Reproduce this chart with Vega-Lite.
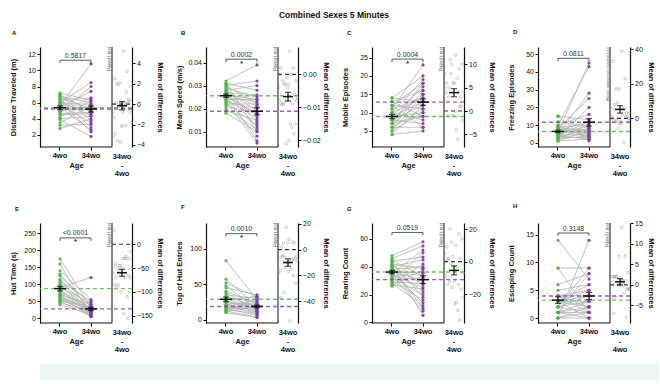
{
"$schema":"https://vega.github.io/schema/vega-lite/v6.json",
"background":"white",
"padding":{"left":9,"top":10,"right":0,"bottom":1},
"title":{"text":"Combined Sexes 5 Minutes","anchor":"middle","fontSize":8.5,"fontWeight":"bold","offset":10},
"datasets":{
"A":[{"id":17,"4wo":5.6,"34wo":10.8,"d":5.2},{"id":4,"4wo":6.0,"34wo":8.5,"d":2.5},{"id":22,"4wo":4.8,"34wo":8.0,"d":3.2},{"id":9,"4wo":5.5,"34wo":7.4,"d":1.9},{"id":13,"4wo":6.4,"34wo":6.5,"d":0.1},{"id":1,"4wo":7.2,"34wo":6.3,"d":-0.9},{"id":26,"4wo":6.8,"34wo":6.0,"d":-0.8},{"id":7,"4wo":4.2,"34wo":6.2,"d":2.0},{"id":19,"4wo":5.9,"34wo":5.8,"d":-0.1},{"id":11,"4wo":3.5,"34wo":5.6,"d":2.1},{"id":3,"4wo":6.6,"34wo":5.3,"d":-1.3},{"id":24,"4wo":5.0,"34wo":5.5,"d":0.5},{"id":15,"4wo":7.0,"34wo":4.9,"d":-2.1},{"id":6,"4wo":4.5,"34wo":4.6,"d":0.1},{"id":28,"4wo":6.2,"34wo":4.4,"d":-1.8},{"id":10,"4wo":5.3,"34wo":5.1,"d":-0.2},{"id":21,"4wo":2.8,"34wo":4.0,"d":1.2},{"id":2,"4wo":6.9,"34wo":3.8,"d":-3.1},{"id":14,"4wo":5.7,"34wo":3.5,"d":-2.2},{"id":25,"4wo":4.0,"34wo":4.3,"d":0.3},{"id":8,"4wo":6.5,"34wo":2.9,"d":-3.6},{"id":18,"4wo":3.2,"34wo":3.3,"d":0.1},{"id":5,"4wo":5.4,"34wo":2.6,"d":-2.8},{"id":27,"4wo":4.9,"34wo":6.6,"d":1.7},{"id":12,"4wo":6.1,"34wo":2.4,"d":-3.7},{"id":20,"4wo":3.9,"34wo":1.8,"d":-2.1},{"id":16,"4wo":5.8,"34wo":5.0,"d":-0.8},{"id":23,"4wo":4.6,"34wo":4.8,"d":0.2}],
"B":[{"id":17,"4wo":0.032,"34wo":0.039,"d":0.007},{"id":4,"4wo":0.030,"34wo":0.032,"d":0.002},{"id":22,"4wo":0.028,"34wo":0.030,"d":0.002},{"id":9,"4wo":0.031,"34wo":0.028,"d":-0.003},{"id":13,"4wo":0.027,"34wo":0.026,"d":-0.001},{"id":1,"4wo":0.029,"34wo":0.025,"d":-0.004},{"id":26,"4wo":0.026,"34wo":0.024,"d":-0.002},{"id":7,"4wo":0.025,"34wo":0.023,"d":-0.002},{"id":19,"4wo":0.024,"34wo":0.024,"d":0.0},{"id":11,"4wo":0.030,"34wo":0.022,"d":-0.008},{"id":3,"4wo":0.022,"34wo":0.022,"d":0.0},{"id":24,"4wo":0.027,"34wo":0.021,"d":-0.006},{"id":15,"4wo":0.023,"34wo":0.020,"d":-0.003},{"id":6,"4wo":0.028,"34wo":0.019,"d":-0.009},{"id":28,"4wo":0.025,"34wo":0.018,"d":-0.007},{"id":10,"4wo":0.021,"34wo":0.018,"d":-0.003},{"id":21,"4wo":0.026,"34wo":0.017,"d":-0.009},{"id":2,"4wo":0.024,"34wo":0.016,"d":-0.008},{"id":14,"4wo":0.019,"34wo":0.015,"d":-0.004},{"id":25,"4wo":0.029,"34wo":0.014,"d":-0.015},{"id":8,"4wo":0.022,"34wo":0.013,"d":-0.009},{"id":18,"4wo":0.027,"34wo":0.012,"d":-0.015},{"id":5,"4wo":0.020,"34wo":0.011,"d":-0.009},{"id":27,"4wo":0.018,"34wo":0.010,"d":-0.008},{"id":12,"4wo":0.031,"34wo":0.010,"d":-0.021},{"id":20,"4wo":0.024,"34wo":0.008,"d":-0.016},{"id":16,"4wo":0.026,"34wo":0.006,"d":-0.020},{"id":23,"4wo":0.023,"34wo":0.005,"d":-0.018}],
"C":[{"id":17,"4wo":11,"34wo":23,"d":12},{"id":4,"4wo":14,"34wo":20,"d":6},{"id":22,"4wo":10,"34wo":19,"d":9},{"id":9,"4wo":7,"34wo":18,"d":11},{"id":13,"4wo":12,"34wo":18,"d":6},{"id":1,"4wo":9,"34wo":17,"d":8},{"id":26,"4wo":6,"34wo":16,"d":10},{"id":7,"4wo":13,"34wo":16,"d":3},{"id":19,"4wo":8,"34wo":15,"d":7},{"id":11,"4wo":5,"34wo":15,"d":10},{"id":3,"4wo":10,"34wo":14,"d":4},{"id":24,"4wo":11,"34wo":14,"d":3},{"id":15,"4wo":7,"34wo":13,"d":6},{"id":6,"4wo":14,"34wo":13,"d":-1},{"id":28,"4wo":9,"34wo":13,"d":4},{"id":10,"4wo":4,"34wo":12,"d":8},{"id":21,"4wo":8,"34wo":12,"d":4},{"id":2,"4wo":6,"34wo":11,"d":5},{"id":14,"4wo":12,"34wo":11,"d":-1},{"id":25,"4wo":9,"34wo":10,"d":1},{"id":8,"4wo":5,"34wo":10,"d":5},{"id":18,"4wo":13,"34wo":9,"d":-4},{"id":5,"4wo":7,"34wo":9,"d":2},{"id":27,"4wo":10,"34wo":8,"d":-2},{"id":12,"4wo":8,"34wo":7,"d":-1},{"id":20,"4wo":12,"34wo":6,"d":-6},{"id":16,"4wo":6,"34wo":6,"d":0},{"id":23,"4wo":4,"34wo":5,"d":1}],
"D":[{"id":17,"4wo":6,"34wo":45,"d":39},{"id":4,"4wo":10,"34wo":43,"d":33},{"id":22,"4wo":5,"34wo":28,"d":23},{"id":9,"4wo":8,"34wo":25,"d":17},{"id":13,"4wo":3,"34wo":20,"d":17},{"id":1,"4wo":10,"34wo":16,"d":6},{"id":26,"4wo":15,"34wo":13,"d":-2},{"id":7,"4wo":4,"34wo":12,"d":8},{"id":19,"4wo":7,"34wo":12,"d":5},{"id":11,"4wo":2,"34wo":11,"d":9},{"id":3,"4wo":9,"34wo":10,"d":1},{"id":24,"4wo":6,"34wo":9,"d":3},{"id":15,"4wo":12,"34wo":9,"d":-3},{"id":6,"4wo":3,"34wo":8,"d":5},{"id":28,"4wo":5,"34wo":8,"d":3},{"id":10,"4wo":8,"34wo":7,"d":-1},{"id":21,"4wo":1,"34wo":7,"d":6},{"id":2,"4wo":6,"34wo":6,"d":0},{"id":14,"4wo":9,"34wo":6,"d":-3},{"id":25,"4wo":4,"34wo":5,"d":1},{"id":8,"4wo":7,"34wo":5,"d":-2},{"id":18,"4wo":2,"34wo":4,"d":2},{"id":5,"4wo":5,"34wo":4,"d":-1},{"id":27,"4wo":3,"34wo":3,"d":0},{"id":12,"4wo":9,"34wo":3,"d":-6},{"id":20,"4wo":15,"34wo":1,"d":-14},{"id":16,"4wo":4,"34wo":2,"d":-2},{"id":23,"4wo":1,"34wo":2,"d":1}],
"E":[{"id":17,"4wo":175,"34wo":30,"d":-145},{"id":4,"4wo":140,"34wo":55,"d":-85},{"id":22,"4wo":130,"34wo":20,"d":-110},{"id":9,"4wo":125,"34wo":40,"d":-85},{"id":13,"4wo":115,"34wo":15,"d":-100},{"id":1,"4wo":110,"34wo":50,"d":-60},{"id":26,"4wo":105,"34wo":35,"d":-70},{"id":7,"4wo":100,"34wo":10,"d":-90},{"id":19,"4wo":95,"34wo":25,"d":-70},{"id":11,"4wo":90,"34wo":45,"d":-45},{"id":3,"4wo":90,"34wo":120,"d":30},{"id":24,"4wo":85,"34wo":20,"d":-65},{"id":15,"4wo":80,"34wo":30,"d":-50},{"id":6,"4wo":80,"34wo":10,"d":-70},{"id":28,"4wo":75,"34wo":25,"d":-50},{"id":10,"4wo":70,"34wo":15,"d":-55},{"id":21,"4wo":70,"34wo":40,"d":-30},{"id":2,"4wo":65,"34wo":20,"d":-45},{"id":14,"4wo":65,"34wo":5,"d":-60},{"id":25,"4wo":60,"34wo":30,"d":-30},{"id":8,"4wo":60,"34wo":10,"d":-50},{"id":18,"4wo":55,"34wo":25,"d":-30},{"id":5,"4wo":55,"34wo":15,"d":-40},{"id":27,"4wo":50,"34wo":35,"d":-15},{"id":12,"4wo":50,"34wo":5,"d":-45},{"id":20,"4wo":45,"34wo":20,"d":-25},{"id":16,"4wo":40,"34wo":10,"d":-30},{"id":23,"4wo":160,"34wo":5,"d":-155}],
"F":[{"id":17,"4wo":83,"34wo":28,"d":-55},{"id":4,"4wo":57,"34wo":20,"d":-37},{"id":22,"4wo":52,"34wo":32,"d":-20},{"id":9,"4wo":48,"34wo":15,"d":-33},{"id":13,"4wo":45,"34wo":35,"d":-10},{"id":1,"4wo":40,"34wo":22,"d":-18},{"id":26,"4wo":38,"34wo":12,"d":-26},{"id":7,"4wo":35,"34wo":30,"d":-5},{"id":19,"4wo":33,"34wo":18,"d":-15},{"id":11,"4wo":31,"34wo":25,"d":-6},{"id":3,"4wo":30,"34wo":14,"d":-16},{"id":24,"4wo":28,"34wo":33,"d":5},{"id":15,"4wo":27,"34wo":10,"d":-17},{"id":6,"4wo":25,"34wo":20,"d":-5},{"id":28,"4wo":24,"34wo":16,"d":-8},{"id":10,"4wo":22,"34wo":8,"d":-14},{"id":21,"4wo":21,"34wo":27,"d":6},{"id":2,"4wo":20,"34wo":13,"d":-7},{"id":14,"4wo":19,"34wo":24,"d":5},{"id":25,"4wo":18,"34wo":11,"d":-7},{"id":8,"4wo":17,"34wo":22,"d":5},{"id":18,"4wo":16,"34wo":6,"d":-10},{"id":5,"4wo":15,"34wo":17,"d":2},{"id":27,"4wo":14,"34wo":9,"d":-5},{"id":12,"4wo":13,"34wo":30,"d":17},{"id":20,"4wo":12,"34wo":4,"d":-8},{"id":16,"4wo":11,"34wo":19,"d":8},{"id":23,"4wo":10,"34wo":3,"d":-7}],
"G":[{"id":17,"4wo":48,"34wo":58,"d":10},{"id":4,"4wo":46,"34wo":55,"d":9},{"id":22,"4wo":35,"34wo":52,"d":17},{"id":9,"4wo":30,"34wo":50,"d":20},{"id":13,"4wo":44,"34wo":47,"d":3},{"id":1,"4wo":40,"34wo":45,"d":5},{"id":26,"4wo":28,"34wo":42,"d":14},{"id":7,"4wo":38,"34wo":40,"d":2},{"id":19,"4wo":42,"34wo":39,"d":-3},{"id":11,"4wo":26,"34wo":38,"d":12},{"id":3,"4wo":36,"34wo":36,"d":0},{"id":24,"4wo":33,"34wo":35,"d":2},{"id":15,"4wo":45,"34wo":33,"d":-12},{"id":6,"4wo":31,"34wo":32,"d":1},{"id":28,"4wo":37,"34wo":30,"d":-7},{"id":10,"4wo":29,"34wo":28,"d":-1},{"id":21,"4wo":41,"34wo":27,"d":-14},{"id":2,"4wo":34,"34wo":25,"d":-9},{"id":14,"4wo":27,"34wo":24,"d":-3},{"id":25,"4wo":39,"34wo":22,"d":-17},{"id":8,"4wo":32,"34wo":20,"d":-12},{"id":18,"4wo":43,"34wo":18,"d":-25},{"id":5,"4wo":30,"34wo":16,"d":-14},{"id":27,"4wo":36,"34wo":14,"d":-22},{"id":12,"4wo":28,"34wo":12,"d":-16},{"id":20,"4wo":40,"34wo":10,"d":-30},{"id":16,"4wo":34,"34wo":8,"d":-26},{"id":23,"4wo":41,"34wo":5,"d":-36}],
"H":[{"id":17,"4wo":0,"34wo":14,"d":14},{"id":4,"4wo":9,"34wo":9,"d":0},{"id":22,"4wo":2,"34wo":9,"d":7},{"id":9,"4wo":6,"34wo":8,"d":2},{"id":13,"4wo":1,"34wo":8,"d":7},{"id":1,"4wo":5,"34wo":6,"d":1},{"id":26,"4wo":3,"34wo":6,"d":3},{"id":7,"4wo":3,"34wo":5,"d":2},{"id":19,"4wo":4,"34wo":5,"d":1},{"id":11,"4wo":4,"34wo":4,"d":0},{"id":3,"4wo":2,"34wo":4,"d":2},{"id":24,"4wo":9,"34wo":1,"d":-8},{"id":15,"4wo":3,"34wo":3,"d":0},{"id":6,"4wo":1,"34wo":3,"d":2},{"id":28,"4wo":3,"34wo":2,"d":-1},{"id":10,"4wo":0,"34wo":2,"d":2},{"id":21,"4wo":4,"34wo":2,"d":-2},{"id":2,"4wo":4,"34wo":1,"d":-3},{"id":14,"4wo":1,"34wo":1,"d":0},{"id":25,"4wo":2,"34wo":1,"d":-1},{"id":8,"4wo":3,"34wo":0,"d":-3},{"id":18,"4wo":0,"34wo":1,"d":1},{"id":5,"4wo":14,"34wo":7,"d":-7},{"id":27,"4wo":1,"34wo":0,"d":-1},{"id":12,"4wo":2,"34wo":3,"d":1},{"id":20,"4wo":0,"34wo":0,"d":0},{"id":16,"4wo":3,"34wo":4,"d":1},{"id":23,"4wo":1,"34wo":2,"d":1}]
},
"columns":1,
"align":"none",
"spacing":10,
"concat":[
{"spacing":25,"vconcat":[
{"spacing":12,"hconcat":[
{"title":{"text":"A","anchor":"start","frame":"group","dx":-28,"fontSize":6,"offset":10},"width":92,"height":100,"resolve":{"scale":{"y":"independent"}},"layer":[
 {"layer":[
  {"data":{"name":"A"},"transform":[{"fold":["4wo","34wo"],"as":["age","v"]}],"layer":[
   {"mark":{"type":"line","color":"#b3b3b3","strokeWidth":0.8},"encoding":{"x":{"field":"age","type":"nominal","title":"Age","scale":{"type":"band","domain":["4wo","34wo","diff"],"paddingInner":0.355,"paddingOuter":0.1613,"align":1},"axis":{"domain":false,"titleX":36,"labelExpr":"datum.value === 'diff' ? '' : datum.label","tickOpacity":{"condition":{"test":"datum.value === 'diff'","value":0},"value":1}}},"y":{"field":"v","type":"quantitative","title":"Distance Traveled (m)","scale":{"domain":[0.5,12.9],"nice":false,"zero":false},"axis":{"values":[2,4,6,8,10,12],"format":"d","tickCount":20,"labelOverlap":false}},"detail":{"field":"id","type":"nominal"}}},
   {"mark":{"type":"circle","size":10,"opacity":0.95},"encoding":{"x":{"field":"age","type":"nominal","title":"Age"},"y":{"field":"v","type":"quantitative","title":"Distance Traveled (m)"},"color":{"field":"age","type":"nominal","scale":{"domain":["4wo","34wo"],"range":["#4fb447","#7b3fa6"]}}}},
   {"mark":{"type":"rule","strokeDash":[4,3],"strokeWidth":1.4,"opacity":0.8},"encoding":{"y":{"aggregate":"mean","field":"v","type":"quantitative","title":"Distance Traveled (m)"},"color":{"field":"age","type":"nominal"}}},
   {"mark":{"type":"errorbar","extent":"stderr","color":"#111","thickness":1.2,"ticks":{"size":6,"thickness":1.2,"color":"#111"}},"encoding":{"x":{"field":"age","type":"nominal","title":"Age"},"y":{"field":"v","type":"quantitative","title":"Distance Traveled (m)"}}},
   {"mark":{"type":"tick","color":"#111","size":12,"thickness":1.5},"encoding":{"x":{"field":"age","type":"nominal","title":"Age"},"y":{"aggregate":"mean","field":"v","type":"quantitative","title":"Distance Traveled (m)"}}}
  ]},
  {"data":{"values":[{"g":"4wo"},{"g":"34wo"}]},"layer":[
   {"mark":{"type":"line","color":"#333","strokeWidth":0.8},"encoding":{"x":{"field":"g","type":"nominal","title":"Age"},"y":{"datum":11.26}}},
   {"mark":{"type":"rule","color":"#333","strokeWidth":0.8},"encoding":{"x":{"field":"g","type":"nominal","title":"Age"},"y":{"datum":11.26},"y2":{"datum":10.91}}}
  ]},
  {"data":{"values":[{"p":"0.5817","s":"","lab":"34wo\n-\n4wo","test":"Paired t test"}]},"layer":[
   {"mark":{"type":"text","fontSize":7,"baseline":"bottom","dy":-1.5,"color":"#333"},"encoding":{"text":{"field":"p"},"x":{"datum":"4wo","bandPosition":1.275},"y":{"datum":11.26}}},
   {"mark":{"type":"text","fontSize":8,"fontWeight":"bold","baseline":"top","dy":0.5,"color":"#333"},"encoding":{"text":{"field":"s"},"x":{"datum":"4wo","bandPosition":1.275},"y":{"datum":11.26}}},
   {"mark":{"type":"rule","color":"#222","strokeWidth":1.1},"encoding":{"x":{"datum":"diff","bandPosition":0}}},
   {"mark":{"type":"rule","color":"#111","strokeWidth":1.2},"encoding":{"x":{"datum":"4wo","bandPosition":-0.5},"x2":{"datum":"diff","bandPosition":0},"y":{"datum":0.5}}},
   {"mark":{"type":"text","fontSize":7.5,"fontWeight":"bold","baseline":"top","dy":6,"lineBreak":"\n","lineHeight":8.5,"color":"#111"},"encoding":{"text":{"field":"lab"},"x":{"datum":"diff","bandPosition":0.5},"y":{"datum":0.5}}},
   {"mark":{"type":"text","angle":270,"align":"right","baseline":"bottom","fontSize":4.5,"color":"#666"},"encoding":{"text":{"field":"test"},"x":{"datum":"diff","bandPosition":0},"y":{"datum":12.9}}}
  ]}
 ]},
 {"data":{"name":"A"},"layer":[
  {"data":{"values":[{"ref":0}]},"mark":{"type":"rule","strokeDash":[4,3],"strokeWidth":1.2,"color":"#333"},"encoding":{"x":{"datum":"diff","bandPosition":0},"x2":{"datum":"diff","bandPosition":1},"y":{"datum":0}}},
  {"mark":{"type":"point","size":7,"color":"#8c8c8c","strokeWidth":0.6},"encoding":{"x":{"datum":"diff"},"xOffset":{"field":"id","type":"nominal","scale":{"paddingOuter":1.5}},"y":{"field":"d","type":"quantitative","title":"Mean of differences","scale":{"domain":[-4.2,5.6],"nice":false,"zero":false},"axis":{"orient":"right","values":[-4,-2,0,2,4],"format":"d","tickCount":20,"labelOverlap":false}}}},
  {"mark":{"type":"errorbar","extent":"stderr","color":"#111","thickness":1.2,"ticks":{"size":6,"thickness":1.2,"color":"#111"}},"encoding":{"x":{"datum":"diff"},"y":{"field":"d","type":"quantitative","title":"Mean of differences"}}},
  {"mark":{"type":"tick","color":"#111","size":10,"thickness":1.5},"encoding":{"x":{"datum":"diff"},"y":{"aggregate":"mean","field":"d","type":"quantitative","title":"Mean of differences"}}}
 ]}
]},
{"title":{"text":"B","anchor":"start","frame":"group","dx":-25,"fontSize":6,"offset":10},"width":92,"height":100,"resolve":{"scale":{"y":"independent"}},"layer":[
 {"layer":[
  {"data":{"name":"B"},"transform":[{"fold":["4wo","34wo"],"as":["age","v"]}],"layer":[
   {"mark":{"type":"line","color":"#b3b3b3","strokeWidth":0.8},"encoding":{"x":{"field":"age","type":"nominal","title":"Age","scale":{"type":"band","domain":["4wo","34wo","diff"],"paddingInner":0.355,"paddingOuter":0.1613,"align":1},"axis":{"domain":false,"titleX":36,"labelExpr":"datum.value === 'diff' ? '' : datum.label","tickOpacity":{"condition":{"test":"datum.value === 'diff'","value":0},"value":1}}},"y":{"field":"v","type":"quantitative","title":"Mean Speed (m/s)","scale":{"domain":[0.0033,0.0468],"nice":false,"zero":false},"axis":{"values":[0.01,0.02,0.03,0.04],"format":".2f","tickCount":20,"labelOverlap":false}},"detail":{"field":"id","type":"nominal"}}},
   {"mark":{"type":"circle","size":10,"opacity":0.95},"encoding":{"x":{"field":"age","type":"nominal","title":"Age"},"y":{"field":"v","type":"quantitative","title":"Mean Speed (m/s)"},"color":{"field":"age","type":"nominal","scale":{"domain":["4wo","34wo"],"range":["#4fb447","#7b3fa6"]}}}},
   {"mark":{"type":"rule","strokeDash":[4,3],"strokeWidth":1.4,"opacity":0.8},"encoding":{"y":{"aggregate":"mean","field":"v","type":"quantitative","title":"Mean Speed (m/s)"},"color":{"field":"age","type":"nominal"}}},
   {"mark":{"type":"errorbar","extent":"stderr","color":"#111","thickness":1.2,"ticks":{"size":6,"thickness":1.2,"color":"#111"}},"encoding":{"x":{"field":"age","type":"nominal","title":"Age"},"y":{"field":"v","type":"quantitative","title":"Mean Speed (m/s)"}}},
   {"mark":{"type":"tick","color":"#111","size":12,"thickness":1.5},"encoding":{"x":{"field":"age","type":"nominal","title":"Age"},"y":{"aggregate":"mean","field":"v","type":"quantitative","title":"Mean Speed (m/s)"}}}
  ]},
  {"data":{"values":[{"g":"4wo"},{"g":"34wo"}]},"layer":[
   {"mark":{"type":"line","color":"#333","strokeWidth":0.8},"encoding":{"x":{"field":"g","type":"nominal","title":"Age"},"y":{"datum":0.0415}}},
   {"mark":{"type":"rule","color":"#333","strokeWidth":0.8},"encoding":{"x":{"field":"g","type":"nominal","title":"Age"},"y":{"datum":0.0415},"y2":{"datum":0.0402}}}
  ]},
  {"data":{"values":[{"p":"0.0002","s":"*","lab":"34wo\n-\n4wo","test":"Paired t test"}]},"layer":[
   {"mark":{"type":"text","fontSize":7,"baseline":"bottom","dy":-1.5,"color":"#333"},"encoding":{"text":{"field":"p"},"x":{"datum":"4wo","bandPosition":1.275},"y":{"datum":0.0415}}},
   {"mark":{"type":"text","fontSize":8,"fontWeight":"bold","baseline":"top","dy":0.5,"color":"#333"},"encoding":{"text":{"field":"s"},"x":{"datum":"4wo","bandPosition":1.275},"y":{"datum":0.0415}}},
   {"mark":{"type":"rule","color":"#222","strokeWidth":1.1},"encoding":{"x":{"datum":"diff","bandPosition":0}}},
   {"mark":{"type":"rule","color":"#111","strokeWidth":1.2},"encoding":{"x":{"datum":"4wo","bandPosition":-0.5},"x2":{"datum":"diff","bandPosition":0},"y":{"datum":0.0033}}},
   {"mark":{"type":"text","fontSize":7.5,"fontWeight":"bold","baseline":"top","dy":6,"lineBreak":"\n","lineHeight":8.5,"color":"#111"},"encoding":{"text":{"field":"lab"},"x":{"datum":"diff","bandPosition":0.5},"y":{"datum":0.0033}}},
   {"mark":{"type":"text","angle":270,"align":"right","baseline":"bottom","fontSize":4.5,"color":"#666"},"encoding":{"text":{"field":"test"},"x":{"datum":"diff","bandPosition":0},"y":{"datum":0.0468}}}
  ]}
 ]},
 {"data":{"name":"B"},"layer":[
  {"data":{"values":[{"ref":0}]},"mark":{"type":"rule","strokeDash":[4,3],"strokeWidth":1.2,"color":"#333"},"encoding":{"x":{"datum":"diff","bandPosition":0},"x2":{"datum":"diff","bandPosition":1},"y":{"datum":0}}},
  {"mark":{"type":"point","size":7,"color":"#8c8c8c","strokeWidth":0.6},"encoding":{"x":{"datum":"diff"},"xOffset":{"field":"id","type":"nominal","scale":{"paddingOuter":1.5}},"y":{"field":"d","type":"quantitative","title":"Mean of differences","scale":{"domain":[-0.022,0.0083],"nice":false,"zero":false},"axis":{"orient":"right","values":[-0.02,-0.01,0],"format":".2f","tickCount":20,"labelOverlap":false}}}},
  {"mark":{"type":"errorbar","extent":"stderr","color":"#111","thickness":1.2,"ticks":{"size":6,"thickness":1.2,"color":"#111"}},"encoding":{"x":{"datum":"diff"},"y":{"field":"d","type":"quantitative","title":"Mean of differences"}}},
  {"mark":{"type":"tick","color":"#111","size":10,"thickness":1.5},"encoding":{"x":{"datum":"diff"},"y":{"aggregate":"mean","field":"d","type":"quantitative","title":"Mean of differences"}}}
 ]}
]},
{"title":{"text":"C","anchor":"start","frame":"group","dx":-25,"fontSize":6,"offset":10},"width":92,"height":100,"resolve":{"scale":{"y":"independent"}},"layer":[
 {"layer":[
  {"data":{"name":"C"},"transform":[{"fold":["4wo","34wo"],"as":["age","v"]}],"layer":[
   {"mark":{"type":"line","color":"#b3b3b3","strokeWidth":0.8},"encoding":{"x":{"field":"age","type":"nominal","title":"Age","scale":{"type":"band","domain":["4wo","34wo","diff"],"paddingInner":0.355,"paddingOuter":0.1613,"align":1},"axis":{"domain":false,"titleX":36,"labelExpr":"datum.value === 'diff' ? '' : datum.label","tickOpacity":{"condition":{"test":"datum.value === 'diff'","value":0},"value":1}}},"y":{"field":"v","type":"quantitative","title":"Mobile Episodes","scale":{"domain":[0.6,27.9],"nice":false,"zero":false},"axis":{"values":[5,10,15,20,25],"format":"d","tickCount":20,"labelOverlap":false}},"detail":{"field":"id","type":"nominal"}}},
   {"mark":{"type":"circle","size":10,"opacity":0.95},"encoding":{"x":{"field":"age","type":"nominal","title":"Age"},"y":{"field":"v","type":"quantitative","title":"Mobile Episodes"},"color":{"field":"age","type":"nominal","scale":{"domain":["4wo","34wo"],"range":["#4fb447","#7b3fa6"]}}}},
   {"mark":{"type":"rule","strokeDash":[4,3],"strokeWidth":1.4,"opacity":0.8},"encoding":{"y":{"aggregate":"mean","field":"v","type":"quantitative","title":"Mobile Episodes"},"color":{"field":"age","type":"nominal"}}},
   {"mark":{"type":"errorbar","extent":"stderr","color":"#111","thickness":1.2,"ticks":{"size":6,"thickness":1.2,"color":"#111"}},"encoding":{"x":{"field":"age","type":"nominal","title":"Age"},"y":{"field":"v","type":"quantitative","title":"Mobile Episodes"}}},
   {"mark":{"type":"tick","color":"#111","size":12,"thickness":1.5},"encoding":{"x":{"field":"age","type":"nominal","title":"Age"},"y":{"aggregate":"mean","field":"v","type":"quantitative","title":"Mobile Episodes"}}}
  ]},
  {"data":{"values":[{"g":"4wo"},{"g":"34wo"}]},"layer":[
   {"mark":{"type":"line","color":"#333","strokeWidth":0.8},"encoding":{"x":{"field":"g","type":"nominal","title":"Age"},"y":{"datum":24.6}}},
   {"mark":{"type":"rule","color":"#333","strokeWidth":0.8},"encoding":{"x":{"field":"g","type":"nominal","title":"Age"},"y":{"datum":24.6},"y2":{"datum":23.8}}}
  ]},
  {"data":{"values":[{"p":"0.0004","s":"*","lab":"34wo\n-\n4wo","test":"Paired t test"}]},"layer":[
   {"mark":{"type":"text","fontSize":7,"baseline":"bottom","dy":-1.5,"color":"#333"},"encoding":{"text":{"field":"p"},"x":{"datum":"4wo","bandPosition":1.275},"y":{"datum":24.6}}},
   {"mark":{"type":"text","fontSize":8,"fontWeight":"bold","baseline":"top","dy":0.5,"color":"#333"},"encoding":{"text":{"field":"s"},"x":{"datum":"4wo","bandPosition":1.275},"y":{"datum":24.6}}},
   {"mark":{"type":"rule","color":"#222","strokeWidth":1.1},"encoding":{"x":{"datum":"diff","bandPosition":0}}},
   {"mark":{"type":"rule","color":"#111","strokeWidth":1.2},"encoding":{"x":{"datum":"4wo","bandPosition":-0.5},"x2":{"datum":"diff","bandPosition":0},"y":{"datum":0.6}}},
   {"mark":{"type":"text","fontSize":7.5,"fontWeight":"bold","baseline":"top","dy":6,"lineBreak":"\n","lineHeight":8.5,"color":"#111"},"encoding":{"text":{"field":"lab"},"x":{"datum":"diff","bandPosition":0.5},"y":{"datum":0.6}}},
   {"mark":{"type":"text","angle":270,"align":"right","baseline":"bottom","fontSize":4.5,"color":"#666"},"encoding":{"text":{"field":"test"},"x":{"datum":"diff","bandPosition":0},"y":{"datum":27.9}}}
  ]}
 ]},
 {"data":{"name":"C"},"layer":[
  {"data":{"values":[{"ref":0}]},"mark":{"type":"rule","strokeDash":[4,3],"strokeWidth":1.2,"color":"#333"},"encoding":{"x":{"datum":"diff","bandPosition":0},"x2":{"datum":"diff","bandPosition":1},"y":{"datum":0}}},
  {"mark":{"type":"point","size":7,"color":"#8c8c8c","strokeWidth":0.6},"encoding":{"x":{"datum":"diff"},"xOffset":{"field":"id","type":"nominal","scale":{"paddingOuter":1.5}},"y":{"field":"d","type":"quantitative","title":"Mean of differences","scale":{"domain":[-7.7,13.7],"nice":false,"zero":false},"axis":{"orient":"right","values":[-5,0,5,10],"format":"d","tickCount":20,"labelOverlap":false}}}},
  {"mark":{"type":"errorbar","extent":"stderr","color":"#111","thickness":1.2,"ticks":{"size":6,"thickness":1.2,"color":"#111"}},"encoding":{"x":{"datum":"diff"},"y":{"field":"d","type":"quantitative","title":"Mean of differences"}}},
  {"mark":{"type":"tick","color":"#111","size":10,"thickness":1.5},"encoding":{"x":{"datum":"diff"},"y":{"aggregate":"mean","field":"d","type":"quantitative","title":"Mean of differences"}}}
 ]}
]},
{"title":{"text":"D","anchor":"start","frame":"group","dx":-25,"fontSize":6,"offset":10},"width":92,"height":100,"resolve":{"scale":{"y":"independent"}},"layer":[
 {"layer":[
  {"data":{"name":"D"},"transform":[{"fold":["4wo","34wo"],"as":["age","v"]}],"layer":[
   {"mark":{"type":"line","color":"#b3b3b3","strokeWidth":0.8},"encoding":{"x":{"field":"age","type":"nominal","title":"Age","scale":{"type":"band","domain":["4wo","34wo","diff"],"paddingInner":0.355,"paddingOuter":0.1613,"align":1},"axis":{"domain":false,"titleX":36,"labelExpr":"datum.value === 'diff' ? '' : datum.label","tickOpacity":{"condition":{"test":"datum.value === 'diff'","value":0},"value":1}}},"y":{"field":"v","type":"quantitative","title":"Freezing Episodes","scale":{"domain":[-2.4,54.1],"nice":false,"zero":false},"axis":{"values":[0,10,20,30,40,50],"format":"d","tickCount":20,"labelOverlap":false}},"detail":{"field":"id","type":"nominal"}}},
   {"mark":{"type":"circle","size":10,"opacity":0.95},"encoding":{"x":{"field":"age","type":"nominal","title":"Age"},"y":{"field":"v","type":"quantitative","title":"Freezing Episodes"},"color":{"field":"age","type":"nominal","scale":{"domain":["4wo","34wo"],"range":["#4fb447","#7b3fa6"]}}}},
   {"mark":{"type":"rule","strokeDash":[4,3],"strokeWidth":1.4,"opacity":0.8},"encoding":{"y":{"aggregate":"mean","field":"v","type":"quantitative","title":"Freezing Episodes"},"color":{"field":"age","type":"nominal"}}},
   {"mark":{"type":"errorbar","extent":"stderr","color":"#111","thickness":1.2,"ticks":{"size":6,"thickness":1.2,"color":"#111"}},"encoding":{"x":{"field":"age","type":"nominal","title":"Age"},"y":{"field":"v","type":"quantitative","title":"Freezing Episodes"}}},
   {"mark":{"type":"tick","color":"#111","size":12,"thickness":1.5},"encoding":{"x":{"field":"age","type":"nominal","title":"Age"},"y":{"aggregate":"mean","field":"v","type":"quantitative","title":"Freezing Episodes"}}}
  ]},
  {"data":{"values":[{"g":"4wo"},{"g":"34wo"}]},"layer":[
   {"mark":{"type":"line","color":"#333","strokeWidth":0.8},"encoding":{"x":{"field":"g","type":"nominal","title":"Age"},"y":{"datum":47.7}}},
   {"mark":{"type":"rule","color":"#333","strokeWidth":0.8},"encoding":{"x":{"field":"g","type":"nominal","title":"Age"},"y":{"datum":47.7},"y2":{"datum":46.0}}}
  ]},
  {"data":{"values":[{"p":"0.0811","s":"","lab":"34wo\n-\n4wo","test":"Wilcoxon matched-pairs signed rank test"}]},"layer":[
   {"mark":{"type":"text","fontSize":7,"baseline":"bottom","dy":-1.5,"color":"#333"},"encoding":{"text":{"field":"p"},"x":{"datum":"4wo","bandPosition":1.275},"y":{"datum":47.7}}},
   {"mark":{"type":"text","fontSize":8,"fontWeight":"bold","baseline":"top","dy":0.5,"color":"#333"},"encoding":{"text":{"field":"s"},"x":{"datum":"4wo","bandPosition":1.275},"y":{"datum":47.7}}},
   {"mark":{"type":"rule","color":"#222","strokeWidth":1.1},"encoding":{"x":{"datum":"diff","bandPosition":0}}},
   {"mark":{"type":"rule","color":"#111","strokeWidth":1.2},"encoding":{"x":{"datum":"4wo","bandPosition":-0.5},"x2":{"datum":"diff","bandPosition":0},"y":{"datum":-2.4}}},
   {"mark":{"type":"text","fontSize":7.5,"fontWeight":"bold","baseline":"top","dy":6,"lineBreak":"\n","lineHeight":8.5,"color":"#111"},"encoding":{"text":{"field":"lab"},"x":{"datum":"diff","bandPosition":0.5},"y":{"datum":-2.4}}},
   {"mark":{"type":"text","angle":270,"align":"right","baseline":"bottom","fontSize":3,"color":"#666"},"encoding":{"text":{"field":"test"},"x":{"datum":"diff","bandPosition":0},"y":{"datum":54.1}}}
  ]}
 ]},
 {"data":{"name":"D"},"layer":[
  {"data":{"values":[{"ref":0}]},"mark":{"type":"rule","strokeDash":[4,3],"strokeWidth":1.2,"color":"#333"},"encoding":{"x":{"datum":"diff","bandPosition":0},"x2":{"datum":"diff","bandPosition":1},"y":{"datum":0}}},
  {"mark":{"type":"point","size":7,"color":"#8c8c8c","strokeWidth":0.6},"encoding":{"x":{"datum":"diff"},"xOffset":{"field":"id","type":"nominal","scale":{"paddingOuter":1.5}},"y":{"field":"d","type":"quantitative","title":"Mean of differences","scale":{"domain":[-16.6,41.3],"nice":false,"zero":false},"axis":{"orient":"right","values":[0,20,40],"format":"d","tickCount":20,"labelOverlap":false,"minExtent":13,"maxExtent":13}}}},
  {"mark":{"type":"errorbar","extent":"stderr","color":"#111","thickness":1.2,"ticks":{"size":6,"thickness":1.2,"color":"#111"}},"encoding":{"x":{"datum":"diff"},"y":{"field":"d","type":"quantitative","title":"Mean of differences"}}},
  {"mark":{"type":"tick","color":"#111","size":10,"thickness":1.5},"encoding":{"x":{"datum":"diff"},"y":{"aggregate":"mean","field":"d","type":"quantitative","title":"Mean of differences"}}}
 ]}
]}
]},
{"spacing":12,"hconcat":[
{"title":{"text":"E","anchor":"start","frame":"group","dx":-25,"fontSize":6,"offset":10},"width":92,"height":100,"resolve":{"scale":{"y":"independent"}},"layer":[
 {"layer":[
  {"data":{"name":"E"},"transform":[{"fold":["4wo","34wo"],"as":["age","v"]}],"layer":[
   {"mark":{"type":"line","color":"#b3b3b3","strokeWidth":0.8},"encoding":{"x":{"field":"age","type":"nominal","title":"Age","scale":{"type":"band","domain":["4wo","34wo","diff"],"paddingInner":0.355,"paddingOuter":0.1613,"align":1},"axis":{"domain":false,"titleX":36,"labelExpr":"datum.value === 'diff' ? '' : datum.label","tickOpacity":{"condition":{"test":"datum.value === 'diff'","value":0},"value":1}}},"y":{"field":"v","type":"quantitative","title":"Hut Time (s)","scale":{"domain":[-14.5,281],"nice":false,"zero":false},"axis":{"values":[0,50,100,150,200,250],"format":"d","tickCount":20,"labelOverlap":false}},"detail":{"field":"id","type":"nominal"}}},
   {"mark":{"type":"circle","size":10,"opacity":0.95},"encoding":{"x":{"field":"age","type":"nominal","title":"Age"},"y":{"field":"v","type":"quantitative","title":"Hut Time (s)"},"color":{"field":"age","type":"nominal","scale":{"domain":["4wo","34wo"],"range":["#4fb447","#7b3fa6"]}}}},
   {"mark":{"type":"rule","strokeDash":[4,3],"strokeWidth":1.4,"opacity":0.8},"encoding":{"y":{"aggregate":"mean","field":"v","type":"quantitative","title":"Hut Time (s)"},"color":{"field":"age","type":"nominal"}}},
   {"mark":{"type":"errorbar","extent":"stderr","color":"#111","thickness":1.2,"ticks":{"size":6,"thickness":1.2,"color":"#111"}},"encoding":{"x":{"field":"age","type":"nominal","title":"Age"},"y":{"field":"v","type":"quantitative","title":"Hut Time (s)"}}},
   {"mark":{"type":"tick","color":"#111","size":12,"thickness":1.5},"encoding":{"x":{"field":"age","type":"nominal","title":"Age"},"y":{"aggregate":"mean","field":"v","type":"quantitative","title":"Hut Time (s)"}}}
  ]},
  {"data":{"values":[{"g":"4wo"},{"g":"34wo"}]},"layer":[
   {"mark":{"type":"line","color":"#333","strokeWidth":0.8},"encoding":{"x":{"field":"g","type":"nominal","title":"Age"},"y":{"datum":237}}},
   {"mark":{"type":"rule","color":"#333","strokeWidth":0.8},"encoding":{"x":{"field":"g","type":"nominal","title":"Age"},"y":{"datum":237},"y2":{"datum":228}}}
  ]},
  {"data":{"values":[{"p":"<0.0001","s":"*","lab":"34wo\n-\n4wo","test":"Paired t test"}]},"layer":[
   {"mark":{"type":"text","fontSize":7,"baseline":"bottom","dy":-1.5,"color":"#333"},"encoding":{"text":{"field":"p"},"x":{"datum":"4wo","bandPosition":1.275},"y":{"datum":237}}},
   {"mark":{"type":"text","fontSize":8,"fontWeight":"bold","baseline":"top","dy":0.5,"color":"#333"},"encoding":{"text":{"field":"s"},"x":{"datum":"4wo","bandPosition":1.275},"y":{"datum":237}}},
   {"mark":{"type":"rule","color":"#222","strokeWidth":1.1},"encoding":{"x":{"datum":"diff","bandPosition":0}}},
   {"mark":{"type":"rule","color":"#111","strokeWidth":1.2},"encoding":{"x":{"datum":"4wo","bandPosition":-0.5},"x2":{"datum":"diff","bandPosition":0},"y":{"datum":-14.5}}},
   {"mark":{"type":"text","fontSize":7.5,"fontWeight":"bold","baseline":"top","dy":6,"lineBreak":"\n","lineHeight":8.5,"color":"#111"},"encoding":{"text":{"field":"lab"},"x":{"datum":"diff","bandPosition":0.5},"y":{"datum":-14.5}}},
   {"mark":{"type":"text","angle":270,"align":"right","baseline":"bottom","fontSize":4.5,"color":"#666"},"encoding":{"text":{"field":"test"},"x":{"datum":"diff","bandPosition":0},"y":{"datum":281}}}
  ]}
 ]},
 {"data":{"name":"E"},"layer":[
  {"data":{"values":[{"ref":0}]},"mark":{"type":"rule","strokeDash":[4,3],"strokeWidth":1.2,"color":"#333"},"encoding":{"x":{"datum":"diff","bandPosition":0},"x2":{"datum":"diff","bandPosition":1},"y":{"datum":0}}},
  {"mark":{"type":"point","size":7,"color":"#8c8c8c","strokeWidth":0.6},"encoding":{"x":{"datum":"diff"},"xOffset":{"field":"id","type":"nominal","scale":{"paddingOuter":1.5}},"y":{"field":"d","type":"quantitative","title":"Mean of differences","scale":{"domain":[-165,44.5],"nice":false,"zero":false},"axis":{"orient":"right","values":[-150,-100,-50,0],"format":"d","tickCount":20,"labelOverlap":false}}}},
  {"mark":{"type":"errorbar","extent":"stderr","color":"#111","thickness":1.2,"ticks":{"size":6,"thickness":1.2,"color":"#111"}},"encoding":{"x":{"datum":"diff"},"y":{"field":"d","type":"quantitative","title":"Mean of differences"}}},
  {"mark":{"type":"tick","color":"#111","size":10,"thickness":1.5},"encoding":{"x":{"datum":"diff"},"y":{"aggregate":"mean","field":"d","type":"quantitative","title":"Mean of differences"}}}
 ]}
]},
{"title":{"text":"F","anchor":"start","frame":"group","dx":-25,"fontSize":6,"offset":10},"width":92,"height":100,"resolve":{"scale":{"y":"independent"}},"layer":[
 {"layer":[
  {"data":{"name":"F"},"transform":[{"fold":["4wo","34wo"],"as":["age","v"]}],"layer":[
   {"mark":{"type":"line","color":"#b3b3b3","strokeWidth":0.8},"encoding":{"x":{"field":"age","type":"nominal","title":"Age","scale":{"type":"band","domain":["4wo","34wo","diff"],"paddingInner":0.355,"paddingOuter":0.1613,"align":1},"axis":{"domain":false,"titleX":36,"labelExpr":"datum.value === 'diff' ? '' : datum.label","tickOpacity":{"condition":{"test":"datum.value === 'diff'","value":0},"value":1}}},"y":{"field":"v","type":"quantitative","title":"Top of Hut Entries","scale":{"domain":[-4.6,136],"nice":false,"zero":false},"axis":{"values":[0,50,100],"format":"d","tickCount":20,"labelOverlap":false}},"detail":{"field":"id","type":"nominal"}}},
   {"mark":{"type":"circle","size":10,"opacity":0.95},"encoding":{"x":{"field":"age","type":"nominal","title":"Age"},"y":{"field":"v","type":"quantitative","title":"Top of Hut Entries"},"color":{"field":"age","type":"nominal","scale":{"domain":["4wo","34wo"],"range":["#4fb447","#7b3fa6"]}}}},
   {"mark":{"type":"rule","strokeDash":[4,3],"strokeWidth":1.4,"opacity":0.8},"encoding":{"y":{"aggregate":"mean","field":"v","type":"quantitative","title":"Top of Hut Entries"},"color":{"field":"age","type":"nominal"}}},
   {"mark":{"type":"errorbar","extent":"stderr","color":"#111","thickness":1.2,"ticks":{"size":6,"thickness":1.2,"color":"#111"}},"encoding":{"x":{"field":"age","type":"nominal","title":"Age"},"y":{"field":"v","type":"quantitative","title":"Top of Hut Entries"}}},
   {"mark":{"type":"tick","color":"#111","size":12,"thickness":1.5},"encoding":{"x":{"field":"age","type":"nominal","title":"Age"},"y":{"aggregate":"mean","field":"v","type":"quantitative","title":"Top of Hut Entries"}}}
  ]},
  {"data":{"values":[{"g":"4wo"},{"g":"34wo"}]},"layer":[
   {"mark":{"type":"line","color":"#333","strokeWidth":0.8},"encoding":{"x":{"field":"g","type":"nominal","title":"Age"},"y":{"datum":121}}},
   {"mark":{"type":"rule","color":"#333","strokeWidth":0.8},"encoding":{"x":{"field":"g","type":"nominal","title":"Age"},"y":{"datum":121},"y2":{"datum":117}}}
  ]},
  {"data":{"values":[{"p":"0.0010","s":"*","lab":"34wo\n-\n4wo","test":"Paired t test"}]},"layer":[
   {"mark":{"type":"text","fontSize":7,"baseline":"bottom","dy":-1.5,"color":"#333"},"encoding":{"text":{"field":"p"},"x":{"datum":"4wo","bandPosition":1.275},"y":{"datum":121}}},
   {"mark":{"type":"text","fontSize":8,"fontWeight":"bold","baseline":"top","dy":0.5,"color":"#333"},"encoding":{"text":{"field":"s"},"x":{"datum":"4wo","bandPosition":1.275},"y":{"datum":121}}},
   {"mark":{"type":"rule","color":"#222","strokeWidth":1.1},"encoding":{"x":{"datum":"diff","bandPosition":0}}},
   {"mark":{"type":"rule","color":"#111","strokeWidth":1.2},"encoding":{"x":{"datum":"4wo","bandPosition":-0.5},"x2":{"datum":"diff","bandPosition":0},"y":{"datum":-4.6}}},
   {"mark":{"type":"text","fontSize":7.5,"fontWeight":"bold","baseline":"top","dy":6,"lineBreak":"\n","lineHeight":8.5,"color":"#111"},"encoding":{"text":{"field":"lab"},"x":{"datum":"diff","bandPosition":0.5},"y":{"datum":-4.6}}},
   {"mark":{"type":"text","angle":270,"align":"right","baseline":"bottom","fontSize":4.5,"color":"#666"},"encoding":{"text":{"field":"test"},"x":{"datum":"diff","bandPosition":0},"y":{"datum":136}}}
  ]}
 ]},
 {"data":{"name":"F"},"layer":[
  {"data":{"values":[{"ref":0}]},"mark":{"type":"rule","strokeDash":[4,3],"strokeWidth":1.2,"color":"#333"},"encoding":{"x":{"datum":"diff","bandPosition":0},"x2":{"datum":"diff","bandPosition":1},"y":{"datum":0}}},
  {"mark":{"type":"point","size":7,"color":"#8c8c8c","strokeWidth":0.6},"encoding":{"x":{"datum":"diff"},"xOffset":{"field":"id","type":"nominal","scale":{"paddingOuter":1.5}},"y":{"field":"d","type":"quantitative","title":"Mean of differences","scale":{"domain":[-56.7,20.5],"nice":false,"zero":false},"axis":{"orient":"right","values":[-40,-20,0,20],"format":"d","tickCount":20,"labelOverlap":false}}}},
  {"mark":{"type":"errorbar","extent":"stderr","color":"#111","thickness":1.2,"ticks":{"size":6,"thickness":1.2,"color":"#111"}},"encoding":{"x":{"datum":"diff"},"y":{"field":"d","type":"quantitative","title":"Mean of differences"}}},
  {"mark":{"type":"tick","color":"#111","size":10,"thickness":1.5},"encoding":{"x":{"datum":"diff"},"y":{"aggregate":"mean","field":"d","type":"quantitative","title":"Mean of differences"}}}
 ]}
]},
{"title":{"text":"G","anchor":"start","frame":"group","dx":-25,"fontSize":6,"offset":10},"width":92,"height":100,"resolve":{"scale":{"y":"independent"}},"layer":[
 {"layer":[
  {"data":{"name":"G"},"transform":[{"fold":["4wo","34wo"],"as":["age","v"]}],"layer":[
   {"mark":{"type":"line","color":"#b3b3b3","strokeWidth":0.8},"encoding":{"x":{"field":"age","type":"nominal","title":"Age","scale":{"type":"band","domain":["4wo","34wo","diff"],"paddingInner":0.355,"paddingOuter":0.1613,"align":1},"axis":{"domain":false,"titleX":36,"labelExpr":"datum.value === 'diff' ? '' : datum.label","tickOpacity":{"condition":{"test":"datum.value === 'diff'","value":0},"value":1}}},"y":{"field":"v","type":"quantitative","title":"Rearing Count","scale":{"domain":[-0.5,71.5],"nice":false,"zero":false},"axis":{"values":[0,20,40,60],"format":"d","tickCount":20,"labelOverlap":false}},"detail":{"field":"id","type":"nominal"}}},
   {"mark":{"type":"circle","size":10,"opacity":0.95},"encoding":{"x":{"field":"age","type":"nominal","title":"Age"},"y":{"field":"v","type":"quantitative","title":"Rearing Count"},"color":{"field":"age","type":"nominal","scale":{"domain":["4wo","34wo"],"range":["#4fb447","#7b3fa6"]}}}},
   {"mark":{"type":"rule","strokeDash":[4,3],"strokeWidth":1.4,"opacity":0.8},"encoding":{"y":{"aggregate":"mean","field":"v","type":"quantitative","title":"Rearing Count"},"color":{"field":"age","type":"nominal"}}},
   {"mark":{"type":"errorbar","extent":"stderr","color":"#111","thickness":1.2,"ticks":{"size":6,"thickness":1.2,"color":"#111"}},"encoding":{"x":{"field":"age","type":"nominal","title":"Age"},"y":{"field":"v","type":"quantitative","title":"Rearing Count"}}},
   {"mark":{"type":"tick","color":"#111","size":12,"thickness":1.5},"encoding":{"x":{"field":"age","type":"nominal","title":"Age"},"y":{"aggregate":"mean","field":"v","type":"quantitative","title":"Rearing Count"}}}
  ]},
  {"data":{"values":[{"g":"4wo"},{"g":"34wo"}]},"layer":[
   {"mark":{"type":"line","color":"#333","strokeWidth":0.8},"encoding":{"x":{"field":"g","type":"nominal","title":"Age"},"y":{"datum":64.7}}},
   {"mark":{"type":"rule","color":"#333","strokeWidth":0.8},"encoding":{"x":{"field":"g","type":"nominal","title":"Age"},"y":{"datum":64.7},"y2":{"datum":62.7}}}
  ]},
  {"data":{"values":[{"p":"0.0519","s":"","lab":"34wo\n-\n4wo","test":"Paired t test"}]},"layer":[
   {"mark":{"type":"text","fontSize":7,"baseline":"bottom","dy":-1.5,"color":"#333"},"encoding":{"text":{"field":"p"},"x":{"datum":"4wo","bandPosition":1.275},"y":{"datum":64.7}}},
   {"mark":{"type":"text","fontSize":8,"fontWeight":"bold","baseline":"top","dy":0.5,"color":"#333"},"encoding":{"text":{"field":"s"},"x":{"datum":"4wo","bandPosition":1.275},"y":{"datum":64.7}}},
   {"mark":{"type":"rule","color":"#222","strokeWidth":1.1},"encoding":{"x":{"datum":"diff","bandPosition":0}}},
   {"mark":{"type":"rule","color":"#111","strokeWidth":1.2},"encoding":{"x":{"datum":"4wo","bandPosition":-0.5},"x2":{"datum":"diff","bandPosition":0},"y":{"datum":-0.5}}},
   {"mark":{"type":"text","fontSize":7.5,"fontWeight":"bold","baseline":"top","dy":6,"lineBreak":"\n","lineHeight":8.5,"color":"#111"},"encoding":{"text":{"field":"lab"},"x":{"datum":"diff","bandPosition":0.5},"y":{"datum":-0.5}}},
   {"mark":{"type":"text","angle":270,"align":"right","baseline":"bottom","fontSize":4.5,"color":"#666"},"encoding":{"text":{"field":"test"},"x":{"datum":"diff","bandPosition":0},"y":{"datum":71.5}}}
  ]}
 ]},
 {"data":{"name":"G"},"layer":[
  {"data":{"values":[{"ref":0}]},"mark":{"type":"rule","strokeDash":[4,3],"strokeWidth":1.2,"color":"#333"},"encoding":{"x":{"datum":"diff","bandPosition":0},"x2":{"datum":"diff","bandPosition":1},"y":{"datum":0}}},
  {"mark":{"type":"point","size":7,"color":"#8c8c8c","strokeWidth":0.6},"encoding":{"x":{"datum":"diff"},"xOffset":{"field":"id","type":"nominal","scale":{"paddingOuter":1.5}},"y":{"field":"d","type":"quantitative","title":"Mean of differences","scale":{"domain":[-37.8,23.7],"nice":false,"zero":false},"axis":{"orient":"right","values":[-20,0,20],"format":"d","tickCount":20,"labelOverlap":false}}}},
  {"mark":{"type":"errorbar","extent":"stderr","color":"#111","thickness":1.2,"ticks":{"size":6,"thickness":1.2,"color":"#111"}},"encoding":{"x":{"datum":"diff"},"y":{"field":"d","type":"quantitative","title":"Mean of differences"}}},
  {"mark":{"type":"tick","color":"#111","size":10,"thickness":1.5},"encoding":{"x":{"datum":"diff"},"y":{"aggregate":"mean","field":"d","type":"quantitative","title":"Mean of differences"}}}
 ]}
]},
{"title":{"text":"H","anchor":"start","frame":"group","dx":-25,"fontSize":6,"offset":10},"width":92,"height":100,"resolve":{"scale":{"y":"independent"}},"layer":[
 {"layer":[
  {"data":{"name":"H"},"transform":[{"fold":["4wo","34wo"],"as":["age","v"]}],"layer":[
   {"mark":{"type":"line","color":"#b3b3b3","strokeWidth":0.8},"encoding":{"x":{"field":"age","type":"nominal","title":"Age","scale":{"type":"band","domain":["4wo","34wo","diff"],"paddingInner":0.355,"paddingOuter":0.1613,"align":1},"axis":{"domain":false,"titleX":36,"labelExpr":"datum.value === 'diff' ? '' : datum.label","tickOpacity":{"condition":{"test":"datum.value === 'diff'","value":0},"value":1}}},"y":{"field":"v","type":"quantitative","title":"Escaping Count","scale":{"domain":[-0.9,17.1],"nice":false,"zero":false},"axis":{"values":[0,5,10,15],"format":"d","tickCount":20,"labelOverlap":false}},"detail":{"field":"id","type":"nominal"}}},
   {"mark":{"type":"circle","size":10,"opacity":0.95},"encoding":{"x":{"field":"age","type":"nominal","title":"Age"},"y":{"field":"v","type":"quantitative","title":"Escaping Count"},"color":{"field":"age","type":"nominal","scale":{"domain":["4wo","34wo"],"range":["#4fb447","#7b3fa6"]}}}},
   {"mark":{"type":"rule","strokeDash":[4,3],"strokeWidth":1.4,"opacity":0.8},"encoding":{"y":{"aggregate":"mean","field":"v","type":"quantitative","title":"Escaping Count"},"color":{"field":"age","type":"nominal"}}},
   {"mark":{"type":"errorbar","extent":"stderr","color":"#111","thickness":1.2,"ticks":{"size":6,"thickness":1.2,"color":"#111"}},"encoding":{"x":{"field":"age","type":"nominal","title":"Age"},"y":{"field":"v","type":"quantitative","title":"Escaping Count"}}},
   {"mark":{"type":"tick","color":"#111","size":12,"thickness":1.5},"encoding":{"x":{"field":"age","type":"nominal","title":"Age"},"y":{"aggregate":"mean","field":"v","type":"quantitative","title":"Escaping Count"}}}
  ]},
  {"data":{"values":[{"g":"4wo"},{"g":"34wo"}]},"layer":[
   {"mark":{"type":"line","color":"#333","strokeWidth":0.8},"encoding":{"x":{"field":"g","type":"nominal","title":"Age"},"y":{"datum":15.3}}},
   {"mark":{"type":"rule","color":"#333","strokeWidth":0.8},"encoding":{"x":{"field":"g","type":"nominal","title":"Age"},"y":{"datum":15.3},"y2":{"datum":14.8}}}
  ]},
  {"data":{"values":[{"p":"0.3148","s":"","lab":"34wo\n-\n4wo","test":"Paired t test"}]},"layer":[
   {"mark":{"type":"text","fontSize":7,"baseline":"bottom","dy":-1.5,"color":"#333"},"encoding":{"text":{"field":"p"},"x":{"datum":"4wo","bandPosition":1.275},"y":{"datum":15.3}}},
   {"mark":{"type":"text","fontSize":8,"fontWeight":"bold","baseline":"top","dy":0.5,"color":"#333"},"encoding":{"text":{"field":"s"},"x":{"datum":"4wo","bandPosition":1.275},"y":{"datum":15.3}}},
   {"mark":{"type":"rule","color":"#222","strokeWidth":1.1},"encoding":{"x":{"datum":"diff","bandPosition":0}}},
   {"mark":{"type":"rule","color":"#111","strokeWidth":1.2},"encoding":{"x":{"datum":"4wo","bandPosition":-0.5},"x2":{"datum":"diff","bandPosition":0},"y":{"datum":-0.9}}},
   {"mark":{"type":"text","fontSize":7.5,"fontWeight":"bold","baseline":"top","dy":6,"lineBreak":"\n","lineHeight":8.5,"color":"#111"},"encoding":{"text":{"field":"lab"},"x":{"datum":"diff","bandPosition":0.5},"y":{"datum":-0.9}}},
   {"mark":{"type":"text","angle":270,"align":"right","baseline":"bottom","fontSize":4.5,"color":"#666"},"encoding":{"text":{"field":"test"},"x":{"datum":"diff","bandPosition":0},"y":{"datum":17.1}}}
  ]}
 ]},
 {"data":{"name":"H"},"layer":[
  {"data":{"values":[{"ref":0}]},"mark":{"type":"rule","strokeDash":[4,3],"strokeWidth":1.2,"color":"#333"},"encoding":{"x":{"datum":"diff","bandPosition":0},"x2":{"datum":"diff","bandPosition":1},"y":{"datum":0}}},
  {"mark":{"type":"point","size":7,"color":"#8c8c8c","strokeWidth":0.6},"encoding":{"x":{"datum":"diff"},"xOffset":{"field":"id","type":"nominal","scale":{"paddingOuter":1.5}},"y":{"field":"d","type":"quantitative","title":"Mean of differences","scale":{"domain":[-9.3,15.1],"nice":false,"zero":false},"axis":{"orient":"right","values":[-5,0,5,10,15],"format":"d","tickCount":20,"labelOverlap":false,"minExtent":13,"maxExtent":13}}}},
  {"mark":{"type":"errorbar","extent":"stderr","color":"#111","thickness":1.2,"ticks":{"size":6,"thickness":1.2,"color":"#111"}},"encoding":{"x":{"datum":"diff"},"y":{"field":"d","type":"quantitative","title":"Mean of differences"}}},
  {"mark":{"type":"tick","color":"#111","size":10,"thickness":1.5},"encoding":{"x":{"datum":"diff"},"y":{"aggregate":"mean","field":"d","type":"quantitative","title":"Mean of differences"}}}
 ]}
]}
]}
]},
{"width":619,"height":16,"view":{"fill":"#eef7ee","stroke":null},"data":{"values":[]},"mark":"rect"}
],
"config":{
 "font":"Liberation Sans",
 "view":{"stroke":null},
 "legend":{"disable":true},
 "axis":{"grid":false,"domainColor":"#111","tickColor":"#111","domainWidth":1.2,"tickWidth":1,"tickSize":3,"labelFontSize":7,"labelColor":"#111","titleFontSize":7.5,"titleFontWeight":"bold","titleColor":"#111","labelPadding":1.5,"titlePadding":3,"labelOverlap":false,"labelFlush":false},
 "axisX":{"labelFontWeight":"bold","labelAngle":0,"labelFontSize":7.5,"titlePadding":2},
 "axisY":{"minExtent":20,"maxExtent":20,"tickCount":20},
 "title":{"fontSize":8.5,"fontWeight":"bold","color":"#111"}
}
}
